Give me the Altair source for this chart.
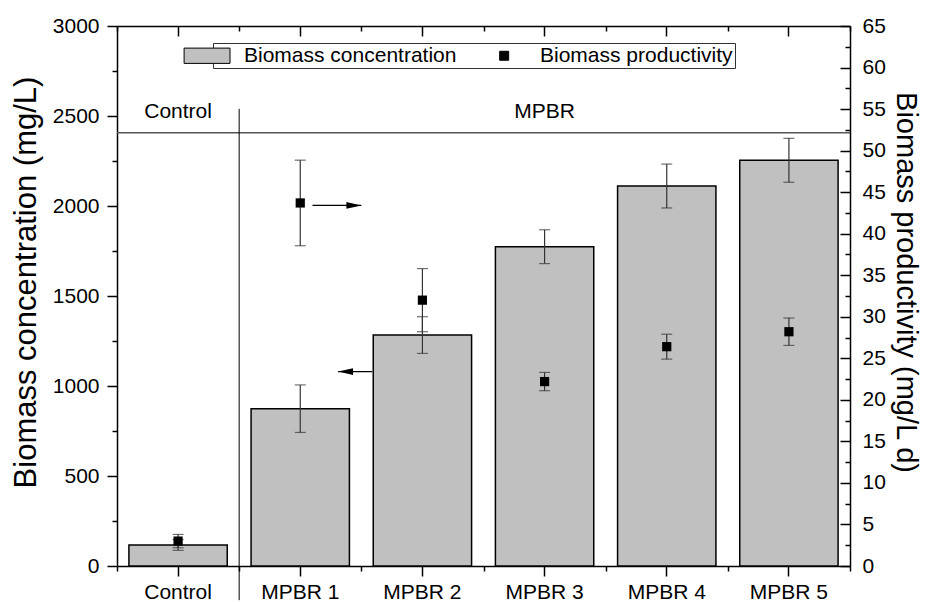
import altair as alt
import pandas as pd

# ---- data -------------------------------------------------------------
categories = ["Control", "MPBR 1", "MPBR 2", "MPBR 3", "MPBR 4", "MPBR 5"]
conc = [117, 874, 1283, 1774, 2111, 2254]          # mg/L
conc_err = [30, 132, 102, 94, 122, 122]
prod = [3.0, 43.7, 32.0, 22.2, 26.4, 28.2]          # mg/L d
prod_err = [0.8, 5.15, 3.8, 1.1, 1.5, 1.65]
series = ["Biomass concentration", "Biomass productivity"]

conc_major = [0, 500, 1000, 1500, 2000, 2500, 3000]
conc_minor = [250, 750, 1250, 1750, 2250, 2750]
prod_major = [0, 5, 10, 15, 20, 25, 30, 35, 40, 45, 50, 55, 60, 65]
prod_minor = [2.5, 7.5, 12.5, 17.5, 22.5, 27.5, 32.5, 37.5, 42.5, 47.5, 52.5, 57.5, 62.5]

group_labels = ["Control", "MPBR"]
group_anchor = ["Control", "MPBR 3"]
group_label_level = 2490
header_line_level = 2407
divider_at = "MPBR 1"
divider_top, divider_bottom = 2540, -190

# arrows pointing each series to its own axis
arrow_right = {"cat": "MPBR 1", "y": 43.4}
arrow_left = {"from": "MPBR 2", "to": "MPBR 1", "y": 1080}

# ---- styling ----------------------------------------------------------
W, H = 733, 540
FONT = "Liberation Sans"
FS = 21
ERR = "#333333"

df = pd.DataFrame({
    "cat": categories,
    "conc": conc,
    "conc_lo": [c - e for c, e in zip(conc, conc_err)],
    "conc_hi": [c + e for c, e in zip(conc, conc_err)],
    "prod": prod,
    "prod_lo": [p - e for p, e in zip(prod, prod_err)],
    "prod_hi": [p + e for p, e in zip(prod, prod_err)],
})

x_scale = alt.Scale(domain=categories, paddingInner=0, paddingOuter=0)
conc_scale = alt.Scale(domain=[0, 3000], nice=False, zero=False)
prod_scale = alt.Scale(domain=[0, 65], nice=False, zero=False)

tick_style = dict(tickColor="black", tickWidth=1.5, grid=False)

ax_bottom = alt.Axis(orient="bottom", labelFont=FONT, labelFontSize=FS, labelColor="black",
                     labelAngle=0, labelPadding=5, tickSize=10, domainColor="black",
                     domainWidth=1.5, **tick_style)
ax_bottom_minor = alt.Axis(orient="bottom", tickBand="extent", labels=False, tickSize=5,
                           domain=False, **tick_style)
ax_top = alt.Axis(orient="bottom", offset=-H, labels=False, tickSize=10,
                  domainColor="black", domainWidth=1.5, **tick_style)
ax_top_minor = alt.Axis(orient="bottom", offset=-H, tickBand="extent", labels=False,
                        tickSize=5, domain=False, **tick_style)

ay_left = alt.Axis(orient="left", values=conc_major, format="d", labelFont=FONT,
                   labelFontSize=FS, labelColor="black", labelPadding=8, tickSize=10,
                   domainColor="black", domainWidth=1.5,
                   title="Biomass concentration (mg/L)", titleFont=FONT, titleFontSize=31,
                   titleFontWeight="normal", titleColor="black", titlePadding=10,
                   titleY=256, **tick_style)
ay_left_minor = alt.Axis(orient="left", values=conc_minor, labels=False, tickSize=5,
                         domain=False, title=None, **tick_style)
ay_right = alt.Axis(orient="right", values=prod_major, format="d", labelFont=FONT,
                    labelFontSize=FS, labelColor="black", ticks=False, tickSize=0,
                    labelPadding=12, domainColor="black", domainWidth=1.5,
                    title="Biomass productivity (mg/L d)", titleFont=FONT, titleFontSize=29,
                    titleFontWeight="normal", titleColor="black", titlePadding=5,
                    titleY=256, grid=False)
ay_right_major = alt.Axis(orient="left", offset=-W, values=prod_major, labels=False,
                          tickSize=10, domain=False, title=None, **tick_style)
ay_right_minor = alt.Axis(orient="left", offset=-W, values=prod_minor, labels=False,
                          tickSize=5, domain=False, title=None, **tick_style)


def X(field="cat", axis=None, **kw):
    return alt.X(f"{field}:N", scale=x_scale, axis=axis, title=None, **kw)


def Yc(field, axis=None):
    return alt.Y(f"{field}:Q", scale=conc_scale, axis=axis, title=None)


def Yp(field, axis=None):
    return alt.Y(f"{field}:Q", scale=prod_scale, axis=axis, title=None)


base = alt.Chart(df)

bars = base.mark_bar(fill="#c0c0c0", stroke="black", strokeWidth=1.5,
                     width=alt.RelativeBandSize(0.805)).encode(
    x=X(axis=ax_bottom),
    y=alt.Y("conc:Q", scale=conc_scale, axis=ay_left),
)

bar_err = base.mark_rule(color=ERR, strokeWidth=1.2).encode(
    x=X(axis=ax_bottom_minor), y=Yc("conc_lo", ay_left_minor), y2="conc_hi:Q")

bar_caps = base.transform_fold(["conc_lo", "conc_hi"], as_=["end", "v"]).mark_tick(
    color=ERR, size=11, thickness=1.2).encode(x=X(axis=ax_top), y=Yc("v"))

header_line = alt.Chart(pd.DataFrame({"level": [header_line_level]})).mark_rule(
    color="#555555", strokeWidth=1.3).encode(y=Yc("level"))

divider = alt.Chart(pd.DataFrame({"at": [divider_at], "top": [divider_top],
                                  "bottom": [divider_bottom]})).mark_rule(
    color="black", strokeWidth=1).encode(
    x=X("at", bandPosition=0), y=Yc("top"), y2="bottom:Q")

group_text = alt.Chart(pd.DataFrame({"anchor": group_anchor, "label": group_labels,
                                     "level": [group_label_level] * 2})).mark_text(
    font=FONT, fontSize=FS, color="black", baseline="alphabetic", align="center").encode(
    x=X("anchor"), y=Yc("level"), text="label:N")

pt_err = base.mark_rule(color=ERR, strokeWidth=1.2).encode(
    x=X(axis=ax_top_minor), y=Yp("prod_lo", ay_right_major), y2="prod_hi:Q")

pt_caps = base.transform_fold(["prod_lo", "prod_hi"], as_=["end", "v"]).mark_tick(
    color=ERR, size=11, thickness=1.2).encode(x=X(), y=Yp("v", ay_right_minor))

points = base.mark_square(size=85, color="black", opacity=1).encode(
    x=X(), y=alt.Y("prod:Q", scale=prod_scale, axis=ay_right))

HEAD_R = "M0,0L-4,-0.9L-4,0.9Z"
HEAD_L = "M0,0L4,-0.9L4,0.9Z"

ar_df = pd.DataFrame([arrow_right])
arrow_r_line = alt.Chart(ar_df).mark_rule(color="black", strokeWidth=1.2).encode(
    x=X("cat", bandPosition=0.6), x2=alt.X2("cat:N", bandPosition=1.0), y=Yp("y"))
arrow_r_head = alt.Chart(ar_df).mark_point(shape=HEAD_R, size=56, filled=True,
                                           color="black", opacity=1).encode(
    x=X("cat", bandPosition=1.0), y=Yp("y"))

al_df = pd.DataFrame([arrow_left])
arrow_l_line = alt.Chart(al_df).mark_rule(color="black", strokeWidth=1.2).encode(
    x=X("from", bandPosition=0.09), x2=alt.X2("to:N", bandPosition=0.81), y=Yc("y"))
arrow_l_head = alt.Chart(al_df).mark_point(shape=HEAD_L, size=56, filled=True,
                                           color="black", opacity=1).encode(
    x=X("to", bandPosition=0.81), y=Yc("y"))

RECT_PATH = "M-9.2,-1.7H1V1.7H-9.2Z"
SQUARE_PATH = "M-4.85,-1H-2.85V1H-4.85Z"
leg = alt.Legend(orient="none", legendX=96, legendY=17, direction="horizontal", title=None,
                 labelFont=FONT, labelFontSize=FS, labelColor="black", labelOffset=8,
                 labelLimit=600, symbolSize=81, symbolStrokeColor="black",
                 symbolStrokeWidth=1, symbolOpacity=1, strokeColor="#333333",
                 fillColor="white", padding=2, columnPadding=40)
legend_layer = alt.Chart(pd.DataFrame({"series": series})).mark_point(
    filled=True, opacity=0).encode(
    color=alt.Color("series:N", scale=alt.Scale(domain=series, range=["#c0c0c0", "black"]),
                    legend=leg),
    stroke=alt.Stroke("series:N", scale=alt.Scale(domain=series, range=["black", "black"]),
                      legend=leg),
    shape=alt.Shape("series:N", scale=alt.Scale(domain=series, range=[RECT_PATH, SQUARE_PATH]),
                    legend=leg),
)

chart = alt.layer(
    bars, bar_err, bar_caps, header_line, divider, group_text,
    pt_err, pt_caps, points,
    arrow_r_line, arrow_r_head, arrow_l_line, arrow_l_head,
    legend_layer,
).resolve_scale(y="independent", x="shared").resolve_axis(
    x="independent", y="independent"
).properties(
    width=W, height=H,
    padding={"left": 117, "top": 26, "right": 76, "bottom": 36},
    autosize=alt.AutoSizeParams(type="none"),
    background="white",
).configure_view(stroke=None)

chart.save("out.html", embed_options={"renderer": "svg", "actions": False})
